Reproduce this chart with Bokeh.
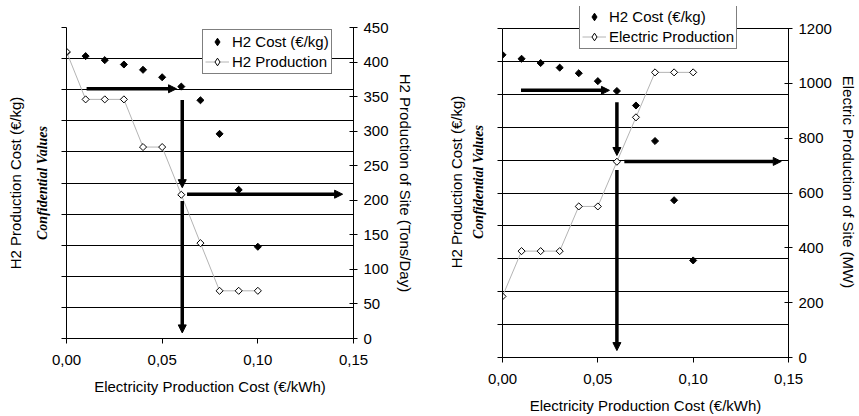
import math
from bokeh.plotting import figure
from bokeh.models import (Range1d, LinearAxis, FixedTicker, CustomJSTickFormatter,
                          Arrow, NormalHead, ColumnDataSource, Legend, LegendItem)
from bokeh.layouts import row, column
from bokeh.embed import file_html
from bokeh.resources import INLINE

# ---------------- data ----------------
elec_cost = [0.00, 0.01, 0.02, 0.03, 0.04, 0.05, 0.06, 0.07, 0.08, 0.09, 0.10]
h2_cost = [9.20, 9.08, 8.95, 8.81, 8.64, 8.40, 8.10, 7.66, 6.58, 4.78, 2.95]      # confidential scale
h2_production = [415, 346, 346, 346, 277, 277, 208, 138, 69, 69, 69]               # Tons/Day
electric_production = [223, 388, 388, 388, 551, 551, 714, 876, 1040, 1040, 1040]   # MW

x_ticks = [0.0, 0.05, 0.10, 0.15]
cost_grid = [0, 1, 2, 3, 4, 5, 6, 7, 8, 9, 10]
h2_prod_ticks = [0, 50, 100, 150, 200, 250, 300, 350, 400, 450]
elec_prod_ticks = [0, 200, 400, 600, 800, 1000, 1200]

# reading arrows (x in EUR/kWh, y in the confidential cost scale)
arrows_h2 = dict(x0=[0.0105, 0.0605, 0.0630, 0.0605], y0=[8.03, 7.67, 4.64, 4.42],
                 x1=[0.0575, 0.0605, 0.1443, 0.0605], y1=[8.03, 4.85, 4.64, 0.18])
arrows_elec = dict(x0=[0.0097, 0.0600, 0.0639, 0.0600], y0=[8.12, 7.76, 5.96, 5.70],
                   x1=[0.0561, 0.0600, 0.1462, 0.0600], y1=[8.12, 6.14, 5.96, 0.21])

FONT = "Liberation Sans"
SERIF = "Liberation Serif"
NAN = float("nan")


def style_text_axis(ax):
    ax.axis_label_text_font = FONT
    ax.axis_label_text_font_style = "normal"
    ax.axis_label_text_font_size = "15px"
    ax.axis_label_text_color = "black"
    ax.major_label_text_font = FONT
    ax.major_label_text_font_size = "15px"
    ax.major_label_text_color = "black"
    ax.axis_line_color = "black"
    ax.major_tick_line_color = "black"
    ax.minor_tick_line_color = None
    ax.minor_tick_in = 0
    ax.minor_tick_out = 0


def make_chart(width, height, bl, br, bt, bb, grid_px, prod_values, prod_max, prod_ticks,
               prod_label, prod_legend, arrows, legend_loc, ylab_standoff):
    # the frame may be taller than the gridded area (room for the legend above it)
    frame_px = height - bt - bb
    stretch = frame_px / grid_px
    cost_top = cost_grid[-1]
    p = figure(width=width, height=height, x_range=Range1d(0, 0.15),
               y_range=Range1d(0, cost_top * stretch),
               output_backend="svg", toolbar_location=None,
               min_border_left=bl, min_border_right=br, min_border_top=bt, min_border_bottom=bb)
    p.extra_y_ranges = {"prod": Range1d(0, prod_max * stretch)}
    p.outline_line_color = None
    p.background_fill_color = "white"
    p.border_fill_color = "white"

    # x axis
    xa = p.xaxis[0]
    style_text_axis(xa)
    xa.ticker = FixedTicker(ticks=x_ticks)
    xa.formatter = CustomJSTickFormatter(code="return tick.toFixed(2).replace('.', ',');")
    xa.major_tick_in = 0
    xa.major_tick_out = 5
    xa.major_label_standoff = 11
    xa.axis_label = "Electricity Production Cost (€/kWh)"
    xa.axis_label_standoff = 10

    # left axis (confidential values, hidden labels)
    ya = p.yaxis[0]
    style_text_axis(ya)
    ya.bounds = (0, cost_top)
    ya.ticker = FixedTicker(ticks=cost_grid)
    ya.formatter = CustomJSTickFormatter(code="return '';")
    ya.major_label_text_font_size = "0px"
    ya.major_label_standoff = 0
    ya.major_tick_in = 0
    ya.major_tick_out = 5
    ya.axis_label = "Confidential Values"
    ya.axis_label_text_font = SERIF
    ya.axis_label_text_font_style = "bold italic"
    ya.axis_label_text_font_size = "14px"
    ya.axis_label_standoff = 12

    ya2 = LinearAxis(ticker=FixedTicker(ticks=[]), axis_line_color=None, bounds=(0, cost_top),
                     major_tick_in=0, major_tick_out=0,
                     major_label_text_font_size="0px", major_label_standoff=0,
                     axis_label="H2 Production Cost (€/kg)", axis_label_standoff=ylab_standoff)
    style_text_axis(ya2)
    ya2.axis_line_color = None
    ya2.major_tick_line_color = None
    ya2.major_label_text_font_size = "0px"
    p.add_layout(ya2, "left")

    # right axis
    yr = LinearAxis(y_range_name="prod", ticker=FixedTicker(ticks=prod_ticks),
                    bounds=(0, prod_max))
    style_text_axis(yr)
    yr.major_tick_in = 4
    yr.major_tick_out = 4
    yr.major_label_standoff = 6
    yr.axis_label = prod_label
    yr.axis_label_standoff = 5
    p.add_layout(yr, "right")

    # grid
    p.xgrid.visible = False
    p.ygrid.ticker = FixedTicker(ticks=cost_grid)
    p.ygrid.grid_line_color = "black"
    p.ygrid.grid_line_width = 1

    # data
    p.scatter(elec_cost, h2_cost, marker="square", angle=math.pi / 4, size=5,
              fill_color="black", line_color="black", line_width=1)
    prod_line = p.line(elec_cost, prod_values, y_range_name="prod", line_color="#b4b4b4",
                       line_width=1)
    p.scatter(elec_cost, prod_values, y_range_name="prod", marker="square",
              angle=math.pi / 4, size=5, fill_color="white", line_color="black",
              line_width=1)

    # legend-only glyphs (diamond shape in the key)
    key_cost = p.scatter([NAN], [NAN], marker="diamond", size=10,
                         fill_color="black", line_color="black", line_width=1)
    key_prod = p.scatter([NAN], [NAN], marker="diamond", size=10,
                         fill_color="white", line_color="black", line_width=1)

    src = ColumnDataSource(arrows)
    p.add_layout(Arrow(end=NormalHead(size=8, fill_color="black", line_color="black",
                                      line_width=1),
                       source=src, x_start="x0", y_start="y0", x_end="x1", y_end="y1",
                       line_width=3.5, line_color="black"))

    lg = Legend(items=[LegendItem(label="H2 Cost (€/kg)", renderers=[key_cost]),
                       LegendItem(label=prod_legend, renderers=[prod_line, key_prod])],
                location=legend_loc)
    lg.margin = 0
    lg.padding = 2
    lg.spacing = 1
    lg.glyph_width = 24
    lg.glyph_height = 19
    lg.label_height = 19
    lg.label_standoff = 3
    lg.label_text_font = FONT
    lg.label_text_font_size = "15px"
    lg.label_text_color = "black"
    lg.border_line_color = "black"
    lg.border_line_width = 1
    lg.background_fill_color = "white"
    lg.background_fill_alpha = 1
    p.add_layout(lg, "center")
    return p


p1 = make_chart(440, 416, 66, 87, 27, 78, 311, h2_production, 450, h2_prod_ticks,
                "H2 Production of Site (Tons/Day)", "H2 Production", arrows_h2,
                (136, 264), 8)
p2 = make_chart(419, 416, 62, 68, 6, 59, 329, electric_production, 1200, elec_prod_ticks,
                "Electric Production of Site (MW)", "Electric Production", arrows_elec,
                (77, 308), 3)

layout = row(column(p1), column(p2))
open("out.html", "w").write(file_html(layout, INLINE))
